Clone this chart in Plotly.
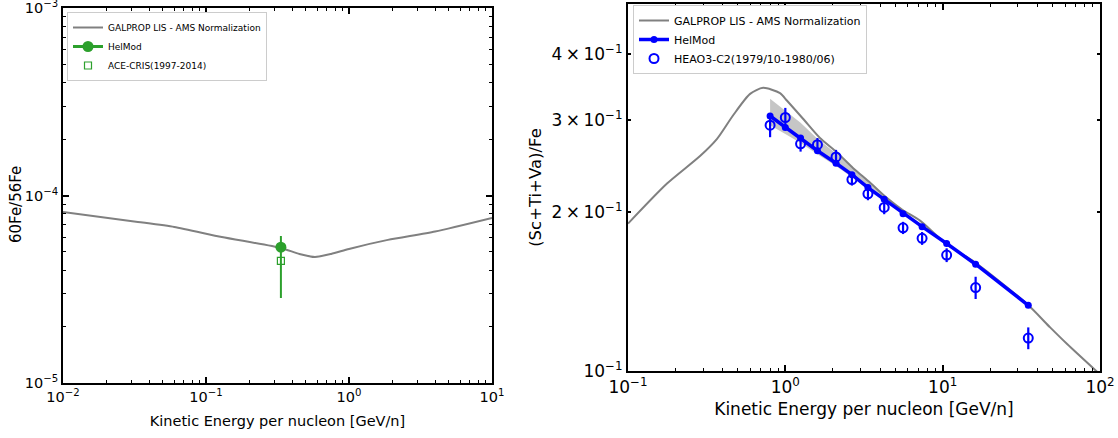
import plotly.graph_objects as go

# ---------------- Left panel: 60Fe/56Fe ----------------
fe_lis_E = [0.01, 0.0334, 0.06, 0.129, 0.334, 0.45, 0.578, 0.75, 1.0, 1.87, 4.0, 10.0]
fe_lis_ratio = [8.17e-5, 7.23e-5, 6.79e-5, 6.01e-5, 5.25e-5, 4.88e-5, 4.70e-5, 4.88e-5,
                5.19e-5, 5.80e-5, 6.43e-5, 7.60e-5]
fe_helmod_E = [0.334]
fe_helmod_ratio = [5.3e-5]
ace_E = [0.334]
ace_ratio = [4.48e-5]
ace_err_up = [1.60e-5]
ace_err_down = [1.64e-5]

# ---------------- Right panel: (Sc+Ti+Va)/Fe ----------------
sub_lis_E = [0.1, 0.177, 0.287, 0.368, 0.466, 0.597, 0.722, 0.925, 1.026, 1.30, 1.66,
             2.13, 2.69, 3.45, 4.43, 5.60, 7.18, 10.5, 16.1, 34.4, 48.2, 61.8, 100.0]
sub_lis_ratio = [0.1905, 0.227, 0.256, 0.276, 0.306, 0.336, 0.345, 0.337, 0.326, 0.301,
                 0.277, 0.260, 0.243, 0.228, 0.213, 0.202, 0.193, 0.1745, 0.1607, 0.134,
                 0.121, 0.1125, 0.0985]
helmod_E = [0.8, 1.0, 1.25, 1.6, 2.1, 2.65, 3.35, 4.25, 5.6, 7.4, 10.6, 16.2, 35.0]
helmod_ratio = [0.305, 0.290, 0.277, 0.262, 0.248, 0.236, 0.223, 0.212, 0.199, 0.188,
                0.1746, 0.1595, 0.1333]
band_E = [0.8, 1.0, 1.25, 1.6, 2.1, 2.65, 3.35, 4.25, 5.6]
band_upper = [0.329, 0.312, 0.296, 0.276, 0.259, 0.244, 0.230, 0.216, 0.201]
band_lower = [0.293, 0.282, 0.271, 0.258, 0.245, 0.234, 0.222, 0.211, 0.198]
heao_E = [0.8, 1.0, 1.25, 1.6, 2.1, 2.65, 3.35, 4.25, 5.6, 7.4, 10.6, 16.2, 35.0]
heao_ratio = [0.293, 0.303, 0.270, 0.269, 0.255, 0.231, 0.217, 0.2045, 0.187, 0.1786,
              0.166, 0.144, 0.1155]
heao_err = [0.015, 0.013, 0.009, 0.008, 0.008, 0.006, 0.006, 0.006, 0.005, 0.005,
            0.005, 0.007, 0.0055]

FONT = "DejaVu Sans"
GRAY = "#808080"
GREEN = "#2ca02c"
BLUE = "#0000ff"

fig = go.Figure()

# Left traces
fig.add_trace(go.Scatter(x=fe_lis_E, y=fe_lis_ratio, mode="lines",
                         line=dict(color=GRAY, width=2, shape="spline", smoothing=0.6),
                         name="GALPROP LIS - AMS Normalization", xaxis="x", yaxis="y", legend="legend"))
fig.add_trace(go.Scatter(x=fe_helmod_E, y=fe_helmod_ratio, mode="lines+markers",
                         line=dict(color=GREEN, width=3), marker=dict(color=GREEN, size=11),
                         name="HelMod", xaxis="x", yaxis="y", legend="legend"))
fig.add_trace(go.Scatter(x=ace_E, y=ace_ratio, mode="markers",
                         marker=dict(symbol="square-open", color=GREEN, size=7, line=dict(width=1.2, color=GREEN)),
                         error_y=dict(type="data", symmetric=False, array=ace_err_up, arrayminus=ace_err_down,
                                      color=GREEN, thickness=2, width=0),
                         name="ACE-CRIS(1997-2014)", xaxis="x", yaxis="y", legend="legend"))

# Right traces
fig.add_trace(go.Scatter(x=band_E + band_E[::-1], y=band_upper + band_lower[::-1], mode="lines",
                         fill="toself", fillcolor="rgba(160,160,160,0.6)", line=dict(width=0),
                         showlegend=False, hoverinfo="skip", xaxis="x2", yaxis="y2"))
fig.add_trace(go.Scatter(x=sub_lis_E, y=sub_lis_ratio, mode="lines",
                         line=dict(color=GRAY, width=2, shape="spline", smoothing=0.7),
                         name="GALPROP LIS - AMS Normalization", xaxis="x2", yaxis="y2", legend="legend2"))
fig.add_trace(go.Scatter(x=helmod_E, y=helmod_ratio, mode="lines+markers",
                         line=dict(color=BLUE, width=3.5), marker=dict(color=BLUE, size=7),
                         name="HelMod", xaxis="x2", yaxis="y2", legend="legend2"))
fig.add_trace(go.Scatter(x=heao_E, y=heao_ratio, mode="markers",
                         marker=dict(symbol="circle-open", color=BLUE, size=9, line=dict(width=2, color=BLUE)),
                         error_y=dict(type="data", array=heao_err, color=BLUE, thickness=2.2, width=0),
                         name="HEAO3-C2(1979/10-1980/06)", xaxis="x2", yaxis="y2", legend="legend2"))


def minor_vals(lo, hi):
    vals = []
    for e in range(lo, hi):
        for m in range(2, 10):
            vals.append(m * 10 ** e)
    return vals


def sup(e):
    s = str(e).replace("-", "\u2212")
    return "10<sup>%s</sup>" % s


axis_common = dict(type="log", showgrid=False, zeroline=False, showline=True, linecolor="black",
                   linewidth=2, mirror="allticks", ticks="inside", tickcolor="black",
                   tickwidth=1.5, ticklen=6, automargin=False, ticklabeloverflow="allow")

fig.update_layout(
    template="none",
    width=1118, height=438,
    margin=dict(l=0, r=0, t=0, b=0, pad=0),
    paper_bgcolor="white", plot_bgcolor="white",
    font=dict(family=FONT, color="black"),
    showlegend=True,
    xaxis=dict(axis_common, domain=[63 / 1118, 492 / 1118], range=[-2, 1], anchor="y",
               tickvals=[0.01, 0.1, 1, 10], ticktext=[sup(-2), sup(-1), sup(0), sup(1)],
               tickfont=dict(size=14.5, family=FONT),
               minor=dict(ticks="inside", ticklen=3, tickwidth=1.2, tickcolor="black", tickvals=minor_vals(-2, 1)),
               title=dict(text="Kinetic Energy per nucleon [GeV/n]", font=dict(size=14.5, family=FONT), standoff=11)),
    yaxis=dict(axis_common, domain=[1 - 383 / 438, 1 - 8 / 438], range=[-5, -3], anchor="x",
               tickvals=[1e-5, 1e-4, 1e-3], ticktext=[sup(-5), sup(-4), sup(-3)],
               tickfont=dict(size=14.5, family=FONT),
               minor=dict(ticks="inside", ticklen=3, tickwidth=1.2, tickcolor="black", tickvals=minor_vals(-5, -3))),
    xaxis2=dict(axis_common, domain=[628 / 1118, 1100 / 1118], range=[-1, 2], anchor="y2",
                tickvals=[0.1, 1, 10, 100], ticktext=[sup(-1), sup(0), sup(1), sup(2)],
                tickfont=dict(size=17, family=FONT),
                minor=dict(ticks="inside", ticklen=3, tickwidth=1.2, tickcolor="black", tickvals=minor_vals(-1, 2)),
                title=dict(text="Kinetic Energy per nucleon [GeV/n]", font=dict(size=17, family=FONT), standoff=7)),
    yaxis2=dict(axis_common, domain=[1 - 371 / 438, 1 - 4 / 438], range=[-1, -0.303], anchor="x2",
                tickvals=[0.1, 0.2, 0.3, 0.4],
                ticktext=[sup(-1), "2\u2009\u00d7\u200910<sup>\u22121</sup>", "3\u2009\u00d7\u200910<sup>\u22121</sup>",
                          "4\u2009\u00d7\u200910<sup>\u22121</sup>"],
                ticklen=3,
                tickfont=dict(size=17, family=FONT),
                minor=dict(ticks="inside", ticklen=3, tickwidth=1.2, tickcolor="black", tickvals=[0.5]),
                title=dict(text="(Sc+Ti+Va)/Fe", font=dict(size=16.5, family=FONT), standoff=6)),
    legend=dict(x=67 / 1118, y=1 - 12 / 438, xanchor="left", yanchor="top",
                bgcolor="white", bordercolor="#cccccc", borderwidth=1,
                font=dict(size=9, family=FONT), itemwidth=30, tracegroupgap=0),
    legend2=dict(x=633 / 1118, y=1 - 5 / 438, xanchor="left", yanchor="top",
                 bgcolor="white", bordercolor="#cccccc", borderwidth=1,
                 font=dict(size=11, family=FONT), itemwidth=30, tracegroupgap=0),
    annotations=[dict(text="60Fe/56Fe", textangle=-90, xref="paper", yref="paper",
                      x=16 / 1118, y=1 - 205 / 438, xanchor="center", yanchor="middle",
                      showarrow=False, font=dict(size=15, family=FONT))],
)

fig.write_html("out.html")
